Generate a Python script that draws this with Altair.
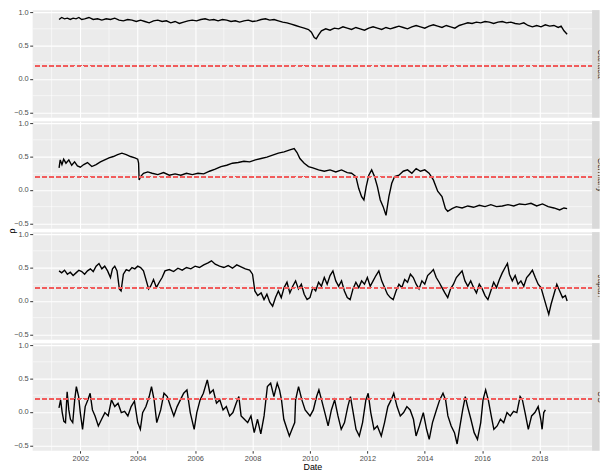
import altair as alt
import pandas as pd

# ---- data: (decimal year, rolling correlation) ----
panels = ["Canada", "Germany", "Japan", "US"]

canada_pts = [(2001.26,0.89),(2001.35,0.92),(2001.45,0.90),(2001.55,0.91),(2001.65,0.89),(2001.75,0.91),(2001.85,0.90),(2001.95,0.92),(2002.05,0.89),(2002.15,0.90),(2002.30,0.92),(2002.45,0.89),(2002.60,0.90),(2002.75,0.88),(2002.90,0.90),(2003.05,0.89),(2003.20,0.91),(2003.35,0.88),(2003.50,0.87),(2003.65,0.89),(2003.80,0.88),(2003.95,0.86),(2004.10,0.88),(2004.25,0.86),(2004.40,0.84),(2004.55,0.87),(2004.70,0.88),(2004.85,0.86),(2005.00,0.87),(2005.15,0.84),(2005.30,0.86),(2005.45,0.83),(2005.60,0.85),(2005.75,0.87),(2005.90,0.88),(2006.05,0.87),(2006.20,0.89),(2006.35,0.90),(2006.50,0.88),(2006.65,0.89),(2006.80,0.87),(2006.95,0.89),(2007.10,0.88),(2007.25,0.86),(2007.40,0.87),(2007.55,0.85),(2007.70,0.87),(2007.85,0.88),(2008.00,0.86),(2008.15,0.87),(2008.30,0.89),(2008.45,0.90),(2008.60,0.88),(2008.75,0.89),(2008.90,0.87),(2009.05,0.85),(2009.20,0.84),(2009.35,0.82),(2009.50,0.80),(2009.65,0.78),(2009.80,0.76),(2009.95,0.74),(2010.05,0.70),(2010.15,0.62),(2010.22,0.60),(2010.30,0.66),(2010.40,0.72),(2010.55,0.75),(2010.70,0.73),(2010.85,0.76),(2011.00,0.75),(2011.15,0.78),(2011.30,0.76),(2011.45,0.74),(2011.60,0.77),(2011.75,0.75),(2011.90,0.73),(2012.05,0.76),(2012.20,0.78),(2012.35,0.76),(2012.50,0.74),(2012.65,0.77),(2012.80,0.75),(2012.95,0.77),(2013.10,0.79),(2013.25,0.77),(2013.40,0.75),(2013.55,0.78),(2013.70,0.80),(2013.85,0.78),(2014.00,0.76),(2014.15,0.79),(2014.30,0.81),(2014.45,0.79),(2014.60,0.77),(2014.75,0.80),(2014.90,0.78),(2015.05,0.76),(2015.20,0.80),(2015.35,0.82),(2015.50,0.84),(2015.65,0.83),(2015.80,0.85),(2015.95,0.84),(2016.10,0.86),(2016.25,0.85),(2016.40,0.83),(2016.55,0.85),(2016.70,0.86),(2016.85,0.84),(2017.00,0.85),(2017.15,0.83),(2017.30,0.82),(2017.45,0.84),(2017.60,0.80),(2017.75,0.78),(2017.90,0.80),(2018.05,0.78),(2018.20,0.81),(2018.35,0.79),(2018.50,0.80),(2018.65,0.77),(2018.75,0.79),(2018.85,0.72),(2018.96,0.67)]

germany_pts = [(2001.26,0.33),(2001.30,0.45),(2001.36,0.38),(2001.42,0.46),(2001.50,0.40),(2001.60,0.45),(2001.70,0.37),(2001.80,0.42),(2001.90,0.36),(2002.00,0.34),(2002.12,0.38),(2002.25,0.41),(2002.40,0.35),(2002.55,0.38),(2002.70,0.42),(2002.85,0.45),(2003.00,0.48),(2003.15,0.50),(2003.30,0.53),(2003.45,0.55),(2003.60,0.53),(2003.75,0.50),(2003.90,0.48),(2004.00,0.46),(2004.03,0.40),(2004.05,0.15),(2004.10,0.20),(2004.20,0.25),(2004.35,0.27),(2004.50,0.25),(2004.70,0.23),(2004.90,0.26),(2005.10,0.22),(2005.30,0.24),(2005.50,0.22),(2005.70,0.25),(2005.90,0.23),(2006.10,0.25),(2006.30,0.24),(2006.50,0.28),(2006.70,0.31),(2006.90,0.35),(2007.10,0.37),(2007.30,0.40),(2007.50,0.41),(2007.70,0.43),(2007.90,0.42),(2008.10,0.45),(2008.30,0.47),(2008.50,0.49),(2008.70,0.52),(2008.90,0.55),(2009.10,0.57),(2009.30,0.60),(2009.45,0.62),(2009.55,0.56),(2009.65,0.47),(2009.80,0.40),(2009.95,0.35),(2010.10,0.33),(2010.30,0.30),(2010.50,0.28),(2010.70,0.30),(2010.90,0.27),(2011.10,0.30),(2011.30,0.26),(2011.45,0.25),(2011.60,0.20),(2011.70,0.02),(2011.80,-0.10),(2011.88,-0.15),(2011.96,0.05),(2012.05,0.22),(2012.15,0.30),(2012.25,0.20),(2012.35,0.05),(2012.45,-0.15),(2012.55,-0.25),(2012.65,-0.38),(2012.75,-0.10),(2012.85,0.10),(2012.95,0.20),(2013.10,0.22),(2013.25,0.28),(2013.40,0.30),(2013.55,0.25),(2013.70,0.32),(2013.85,0.28),(2014.00,0.30),(2014.15,0.25),(2014.30,0.15),(2014.45,-0.02),(2014.60,-0.10),(2014.72,-0.28),(2014.80,-0.32),(2014.95,-0.28),(2015.10,-0.25),(2015.30,-0.27),(2015.50,-0.24),(2015.70,-0.26),(2015.90,-0.23),(2016.10,-0.25),(2016.30,-0.22),(2016.50,-0.25),(2016.70,-0.24),(2016.90,-0.22),(2017.10,-0.24),(2017.30,-0.21),(2017.50,-0.22),(2017.70,-0.20),(2017.90,-0.24),(2018.10,-0.21),(2018.30,-0.25),(2018.50,-0.27),(2018.70,-0.30),(2018.85,-0.27),(2018.96,-0.28)]

japan_pts = [(2001.26,0.45),(2001.35,0.42),(2001.45,0.46),(2001.55,0.40),(2001.65,0.43),(2001.75,0.38),(2001.85,0.42),(2001.95,0.46),(2002.05,0.44),(2002.15,0.40),(2002.25,0.45),(2002.35,0.48),(2002.45,0.44),(2002.55,0.52),(2002.65,0.56),(2002.75,0.48),(2002.85,0.52),(2002.95,0.45),(2003.05,0.35),(2003.12,0.48),(2003.20,0.52),(2003.28,0.45),(2003.36,0.18),(2003.42,0.15),(2003.50,0.40),(2003.60,0.47),(2003.70,0.45),(2003.80,0.50),(2003.90,0.48),(2004.00,0.52),(2004.10,0.50),(2004.20,0.45),(2004.30,0.30),(2004.38,0.18),(2004.45,0.22),(2004.55,0.32),(2004.65,0.20),(2004.75,0.28),(2004.85,0.35),(2004.95,0.45),(2005.10,0.47),(2005.25,0.44),(2005.40,0.49),(2005.55,0.46),(2005.70,0.50),(2005.85,0.48),(2006.00,0.52),(2006.15,0.50),(2006.30,0.54),(2006.45,0.57),(2006.57,0.60),(2006.70,0.55),(2006.85,0.52),(2007.00,0.50),(2007.15,0.53),(2007.30,0.49),(2007.45,0.54),(2007.60,0.51),(2007.75,0.48),(2007.90,0.46),(2008.00,0.40),(2008.08,0.15),(2008.18,0.08),(2008.30,0.12),(2008.40,0.02),(2008.50,0.10),(2008.60,-0.02),(2008.70,-0.08),(2008.80,0.05),(2008.90,0.15),(2009.00,0.05),(2009.10,0.20),(2009.20,0.28),(2009.30,0.12),(2009.40,0.22),(2009.50,0.30),(2009.60,0.18),(2009.70,0.25),(2009.80,0.10),(2009.90,0.02),(2010.00,0.05),(2010.10,0.20),(2010.20,0.15),(2010.30,0.28),(2010.40,0.22),(2010.50,0.35),(2010.60,0.25),(2010.70,0.38),(2010.80,0.45),(2010.90,0.30),(2011.00,0.22),(2011.10,0.30),(2011.20,0.15),(2011.30,0.05),(2011.40,0.02),(2011.50,0.18),(2011.60,0.28),(2011.70,0.20),(2011.80,0.30),(2011.90,0.25),(2012.00,0.35),(2012.10,0.22),(2012.20,0.30),(2012.30,0.38),(2012.40,0.45),(2012.50,0.30),(2012.60,0.20),(2012.70,0.10),(2012.80,0.05),(2012.90,0.02),(2013.00,0.15),(2013.10,0.25),(2013.20,0.20),(2013.30,0.32),(2013.40,0.28),(2013.50,0.40),(2013.60,0.35),(2013.70,0.25),(2013.80,0.18),(2013.90,0.30),(2014.00,0.25),(2014.10,0.38),(2014.20,0.42),(2014.30,0.47),(2014.40,0.35),(2014.50,0.28),(2014.60,0.20),(2014.70,0.12),(2014.80,0.05),(2014.90,0.18),(2015.00,0.25),(2015.10,0.35),(2015.20,0.40),(2015.30,0.45),(2015.40,0.30),(2015.50,0.22),(2015.60,0.30),(2015.70,0.20),(2015.80,0.12),(2015.90,0.25),(2016.00,0.18),(2016.10,0.08),(2016.20,0.02),(2016.30,0.15),(2016.40,0.28),(2016.50,0.20),(2016.60,0.32),(2016.70,0.42),(2016.80,0.50),(2016.88,0.56),(2016.95,0.40),(2017.05,0.30),(2017.15,0.38),(2017.25,0.25),(2017.35,0.30),(2017.45,0.22),(2017.55,0.35),(2017.65,0.40),(2017.75,0.46),(2017.85,0.35),(2017.95,0.25),(2018.05,0.20),(2018.15,0.05),(2018.25,-0.10),(2018.32,-0.20),(2018.40,-0.05),(2018.50,0.10),(2018.60,0.25),(2018.70,0.15),(2018.80,0.05),(2018.90,0.08),(2018.96,0.00)]

us_pts = [(2001.256,0.06),(2001.313,0.18),(2001.370,-0.01),(2001.427,-0.14),(2001.484,-0.16),(2001.541,0.30),(2001.599,0.03),(2001.656,-0.11),(2001.736,-0.16),(2001.804,0.18),(2001.862,0.38),(2001.942,0.23),(2001.999,-0.01),(2002.078,-0.26),(2002.170,0.08),(2002.262,0.18),(2002.342,0.28),(2002.422,0.03),(2002.513,-0.06),(2002.628,-0.21),(2002.742,-0.11),(2002.857,-0.01),(2002.971,-0.06),(2003.085,0.18),(2003.200,0.08),(2003.314,0.13),(2003.428,-0.01),(2003.543,0.01),(2003.657,-0.06),(2003.771,0.08),(2003.886,0.16),(2004.000,-0.16),(2004.091,-0.26),(2004.171,-0.01),(2004.286,0.08),(2004.400,0.23),(2004.480,0.38),(2004.571,0.18),(2004.663,-0.16),(2004.800,0.03),(2004.915,0.28),(2005.029,0.23),(2005.143,0.08),(2005.258,-0.06),(2005.372,0.08),(2005.486,0.18),(2005.601,0.28),(2005.715,0.33),(2005.830,-0.01),(2005.967,-0.26),(2006.058,-0.01),(2006.173,0.18),(2006.287,0.28),(2006.424,0.48),(2006.516,0.28),(2006.630,0.33),(2006.744,0.13),(2006.859,0.18),(2006.973,0.03),(2007.087,0.08),(2007.202,-0.06),(2007.316,-0.01),(2007.430,0.13),(2007.522,0.23),(2007.602,-0.06),(2007.716,-0.11),(2007.831,-0.16),(2007.945,-0.06),(2008.059,-0.31),(2008.174,-0.11),(2008.288,-0.33),(2008.402,-0.06),(2008.517,0.38),(2008.631,0.43),(2008.745,0.23),(2008.860,0.43),(2008.940,0.33),(2009.009,0.18),(2009.089,-0.11),(2009.203,-0.26),(2009.283,-0.36),(2009.375,-0.26),(2009.470,-0.16),(2009.500,0.18),(2009.603,0.38),(2009.718,0.18),(2009.832,0.03),(2010.004,-0.06),(2010.118,0.03),(2010.232,0.23),(2010.312,0.33),(2010.404,0.18),(2010.518,-0.01),(2010.633,-0.21),(2010.747,0.03),(2010.861,0.18),(2010.976,-0.06),(2011.090,-0.26),(2011.204,-0.16),(2011.319,0.08),(2011.410,0.23),(2011.490,0.03),(2011.605,-0.26),(2011.719,-0.36),(2011.833,-0.16),(2011.948,0.18),(2012.028,0.28),(2012.119,-0.01),(2012.233,-0.26),(2012.348,-0.21),(2012.485,-0.36),(2012.599,-0.16),(2012.714,0.08),(2012.828,0.18),(2012.920,0.28),(2013.034,0.08),(2013.148,-0.06),(2013.263,-0.01),(2013.377,0.08),(2013.491,0.03),(2013.606,-0.11),(2013.697,-0.36),(2013.811,-0.21),(2013.949,-0.01),(2014.063,-0.26),(2014.155,-0.41),(2014.269,-0.16),(2014.406,0.03),(2014.520,0.18),(2014.635,0.28),(2014.726,0.18),(2014.806,-0.06),(2014.921,-0.21),(2015.035,-0.31),(2015.127,-0.48),(2015.207,-0.26),(2015.321,0.03),(2015.412,0.23),(2015.492,0.08),(2015.607,-0.11),(2015.721,-0.31),(2015.836,-0.41),(2015.950,-0.16),(2016.030,0.18),(2016.121,0.33),(2016.213,0.18),(2016.316,-0.06),(2016.407,-0.26),(2016.522,-0.21),(2016.636,-0.11),(2016.750,-0.16),(2016.865,-0.01),(2016.979,-0.06),(2017.093,0.01),(2017.208,-0.01),(2017.322,0.23),(2017.402,0.18),(2017.494,-0.01),(2017.608,-0.26),(2017.722,-0.06),(2017.837,-0.01),(2017.951,0.08),(2018.042,-0.11),(2018.088,-0.26),(2018.145,-0.01),(2018.202,0.03)]

series = [canada_pts, germany_pts, japan_pts, us_pts]

threshold = 0.2
x_minor = [2001, 2003, 2005, 2007, 2009, 2011, 2013, 2015, 2017, 2019]
y_minor = [-0.25, 0.25, 0.75]
x_domain = [2000.34, 2019.83]
y_domain = [-0.58, 1.03]

W, H = 567, 109
STRIP_W = 7.5
FONT = "Liberation Sans"


def panel(name, pts, bottom, with_title):
    df = pd.DataFrame(pts, columns=["Date", "rho"])
    xscale = alt.Scale(domain=x_domain, nice=False, zero=False)
    yscale = alt.Scale(domain=y_domain, nice=False, zero=False)
    xaxis = alt.Axis(tickCount=10, format="d", title="Date" if bottom else None,
                     labels=bottom, ticks=bottom, domain=False, grid=True,
                     labelOverlap=False, labelFlush=False,
                     gridColor="white", gridWidth=1.1, tickColor="#333333", tickSize=2.5,
                     labelPadding=1.5, labelFontSize=7.5, labelColor="#4D4D4D",
                     titleFontSize=9, titleFontWeight="normal", titlePadding=1)
    yaxis_kw = dict(tickCount=4, format=".1f", domain=False, grid=True,
                    labelOverlap=False, labelFlush=False,
                    gridColor="white", gridWidth=1.1, tickColor="#333333", tickSize=3,
                    labelPadding=1.5, labelFontSize=7.5, labelColor="#4D4D4D")
    if with_title:
        yaxis = alt.Axis(title="ρ", titleX=-16, titleY=H + 1.75, titleAngle=-90,
                         titleFontSize=9, titleFontWeight="normal", **yaxis_kw)
    else:
        yaxis = alt.Axis(title=None, **yaxis_kw)

    line = alt.Chart(df).mark_line(color="black", strokeWidth=1.4).encode(
        x=alt.X("Date:Q", scale=xscale, axis=xaxis),
        y=alt.Y("rho:Q", scale=yscale, axis=yaxis))
    vminor = alt.Chart(pd.DataFrame({"Date": x_minor})).mark_rule(
        color="white", strokeWidth=0.55).encode(x=alt.X("Date:Q"))
    hminor = alt.Chart(pd.DataFrame({"rho": y_minor})).mark_rule(
        color="white", strokeWidth=0.55).encode(y=alt.Y("rho:Q"))
    ref = alt.Chart(df).mark_rule(color="#F25C5C", strokeDash=[4, 3], strokeWidth=1.2).encode(
        y=alt.datum(threshold))
    return alt.layer(vminor, hminor, line, ref).properties(width=W, height=H)


def strip(name):
    d = pd.DataFrame({"label": [name]})
    bg = alt.Chart(d).mark_rect(color="#D9D9D9").encode(
        x=alt.value(0), x2=alt.value(STRIP_W), y=alt.value(0), y2=alt.value(H))
    txt = alt.Chart(d).mark_text(angle=90, clip=True, fontSize=8.5, font=FONT,
                                 color="#1A1A1A", align="center", baseline="middle").encode(
        text="label:N", x=alt.value(9), y=alt.value(H / 2))
    return alt.layer(bg, txt).properties(width=STRIP_W, height=H)


cells = []
for i, (name, pts) in enumerate(zip(panels, series)):
    cells.append(panel(name, pts, bottom=(i == 3), with_title=(i == 1)))
    cells.append(strip(name))

chart = alt.concat(*cells, columns=2, spacing={"row": 3.5, "column": 0},
                   align="each", bounds="flush").properties(
    padding={"top": -3, "left": 0, "right": 0, "bottom": 0}
).configure_view(stroke=None, fill="#EBEBEB").configure_axis(
    labelFont=FONT, titleFont=FONT, titleColor="#000000")

chart.save("out.html", embed_options={"renderer": "svg", "actions": False})
